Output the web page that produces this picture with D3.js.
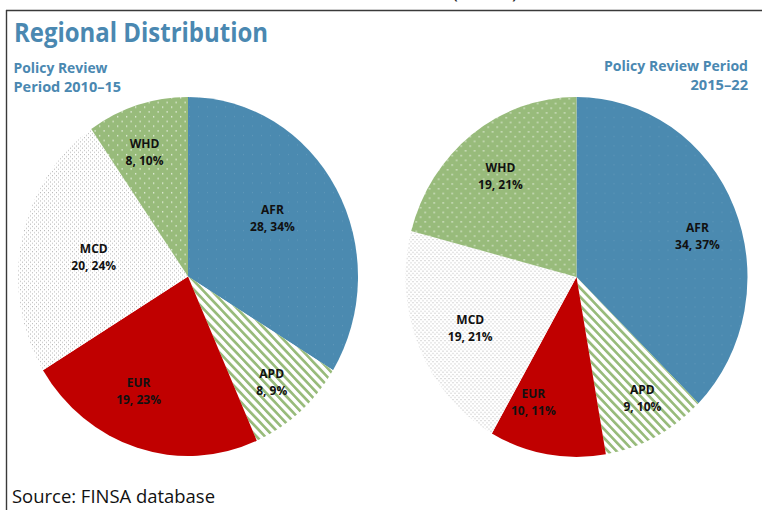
<!DOCTYPE html>
<html>
<head>
<meta charset="utf-8">
<script src="https://cdn.jsdelivr.net/npm/d3@7/dist/d3.min.js"></script>
<style>
  html, body { margin: 0; padding: 0; background: #fff; }
  svg { display: block; }
  text { font-family: "Open Sans", "Noto Sans", sans-serif; }
</style>
</head>
<body>
<svg id="chart" width="762" height="510"></svg>
<script>
// ---- data ----
const regions = ["AFR", "APD", "EUR", "MCD", "WHD"];
const values2010 = [28, 8, 19, 20, 8];
const percents2010 = [34, 9, 23, 24, 10];
const values2015 = [34, 9, 10, 19, 19];
const percents2015 = [37, 10, 11, 21, 21];
const periodTitles = [["Policy Review", "Period 2010\u201315"], ["Policy Review Period", "2015\u201322"]];
const chartTitle = "Regional Distribution";
const sourceNote = "Source: FINSA database";

// ---- layout (styling only) ----
const W = 762, H = 510;
const pies = [
  { cx: 188, cy: 276.5, rx: 170, ry: 179.5, values: values2010, pcts: percents2010,
    labelR: [101, 131, 120, 96, 125], labelDA: [-4, 1.5, 7, -1, -3] },
  { cx: 576.5, cy: 277, rx: 171, ry: 180, values: values2015, pcts: percents2015,
    labelR: [127, 133, 127, 117, 122], labelDA: [5, -2, 10, -2, -1] }
];
const blue = "#4B8AB0";
const titleBlue = "#4A88B1";
const green = "#98BB7B";
const red = "#C00000";

const svg = d3.select("#chart");
const defs = svg.append("defs");

// WHD: green with white dots
const pWhd = defs.append("pattern").attr("id", "pWHD").attr("patternUnits", "userSpaceOnUse")
  .attr("width", 9).attr("height", 9);
pWhd.append("rect").attr("width", 9).attr("height", 9).attr("fill", green);
pWhd.append("rect").attr("x", 1).attr("y", 1).attr("width", 1.3).attr("height", 1.3).attr("fill", "rgba(255,255,255,0.75)");
pWhd.append("rect").attr("x", 5.5).attr("y", 5.5).attr("width", 1.3).attr("height", 1.3).attr("fill", "rgba(255,255,255,0.75)");

// MCD: white with fine grey dots
const pMcd = defs.append("pattern").attr("id", "pMCD").attr("patternUnits", "userSpaceOnUse")
  .attr("width", 4).attr("height", 4);
pMcd.append("rect").attr("width", 4).attr("height", 4).attr("fill", "#fff");
pMcd.append("rect").attr("x", 0).attr("y", 0).attr("width", 1).attr("height", 1).attr("fill", "#b8b8b8");
pMcd.append("rect").attr("x", 2).attr("y", 2).attr("width", 1).attr("height", 1).attr("fill", "#b8b8b8");

// APD: white with green diagonal stripes
const pApd = defs.append("pattern").attr("id", "pAPD").attr("patternUnits", "userSpaceOnUse")
  .attr("width", 6).attr("height", 6).attr("patternTransform", "rotate(-45)");
pApd.append("rect").attr("width", 6).attr("height", 6).attr("fill", "#fff");
pApd.append("rect").attr("x", 0).attr("y", 0).attr("width", 2.6).attr("height", 6).attr("fill", green);

// AFR: blue with very faint dots
const pAfr = defs.append("pattern").attr("id", "pAFR").attr("patternUnits", "userSpaceOnUse")
  .attr("width", 9).attr("height", 9);
pAfr.append("rect").attr("width", 9).attr("height", 9).attr("fill", blue);
pAfr.append("rect").attr("x", 1).attr("y", 1).attr("width", 1).attr("height", 1).attr("fill", "rgba(255,255,255,0.12)");

const fillScale = d3.scaleOrdinal()
  .domain(regions)
  .range(["url(#pAFR)", "url(#pAPD)", red, "url(#pMCD)", "url(#pWHD)"]);

// frame
svg.append("line").attr("x1", 6).attr("x2", W).attr("y1", 10.5).attr("y2", 10.5)
  .attr("stroke", "#3a3a3a").attr("stroke-width", 1.6);
svg.append("line").attr("x1", 6.5).attr("x2", 6.5).attr("y1", 10).attr("y2", H)
  .attr("stroke", "#3a3a3a").attr("stroke-width", 1.4);
// cut-off heading remnants above frame
svg.append("text").attr("x", 452).attr("y", -2).attr("font-size", 20).attr("fill", "#222").text("(");
svg.append("text").attr("x", 512).attr("y", -2).attr("font-size", 20).attr("fill", "#222").text(")");

// title
svg.append("text").attr("x", 14).attr("y", 41.5)
  .attr("font-size", 26).attr("font-weight", 700).attr("fill", titleBlue)
  .attr("textLength", 254).attr("lengthAdjust", "spacingAndGlyphs")
  .text(chartTitle);

// period subtitles
const fs = 14.5;
svg.append("text").attr("x", 13.5).attr("y", 72.5).attr("font-size", fs).attr("font-weight", 700)
  .attr("fill", titleBlue).attr("textLength", 94).attr("lengthAdjust", "spacingAndGlyphs").text(periodTitles[0][0]);
svg.append("text").attr("x", 13.5).attr("y", 91.5).attr("font-size", fs).attr("font-weight", 700)
  .attr("fill", titleBlue).attr("textLength", 107.5).attr("lengthAdjust", "spacingAndGlyphs").text(periodTitles[0][1]);
svg.append("text").attr("x", 604).attr("y", 70.5).attr("font-size", fs).attr("font-weight", 700)
  .attr("fill", titleBlue).attr("textLength", 144).attr("lengthAdjust", "spacingAndGlyphs").text(periodTitles[1][0]);
svg.append("text").attr("x", 690.5).attr("y", 90).attr("font-size", fs).attr("font-weight", 700)
  .attr("fill", titleBlue).attr("textLength", 57.5).attr("lengthAdjust", "spacingAndGlyphs").text(periodTitles[1][1]);

// pies
const pie = d3.pie().sort(null).value(d => d.v);
pies.forEach(P => {
  const data = regions.map((r, i) => ({ r, v: P.values[i], p: P.pcts[i], i }));
  const arcs = pie(data);
  const arc = d3.arc().innerRadius(0).outerRadius(P.rx);
  const sy = P.ry / P.rx;
  const g = svg.append("g").attr("transform", `translate(${P.cx},${P.cy}) scale(1,${sy})`);
  g.selectAll("path").data(arcs).join("path")
    .attr("d", arc)
    .attr("fill", d => fillScale(d.data.r))
    .attr("stroke", "none");

  const lg = svg.append("g").attr("transform", `translate(${P.cx},${P.cy})`);
  arcs.forEach(a => {
    const i = a.data.i;
    const mid = (a.startAngle + a.endAngle) / 2 + P.labelDA[i] * Math.PI / 180;
    const rr = P.labelR[i];
    const x = rr * Math.sin(mid);
    const y = -rr * Math.cos(mid) * sy;
    const t = lg.append("text").attr("text-anchor", "middle")
      .attr("font-size", 12).attr("font-weight", 700).attr("fill", "#111");
    t.append("tspan").attr("x", x).attr("y", y - 4.5).text(a.data.r);
    t.append("tspan").attr("x", x).attr("y", y + 12.5).text(`${a.data.v}, ${a.data.p}%`);
  });
});

// source
svg.append("text").attr("x", 12).attr("y", 502.5)
  .attr("font-size", 18.5).attr("fill", "#111")
  .attr("textLength", 203).attr("lengthAdjust", "spacingAndGlyphs")
  .text(sourceNote);
</script>
</body>
</html>
